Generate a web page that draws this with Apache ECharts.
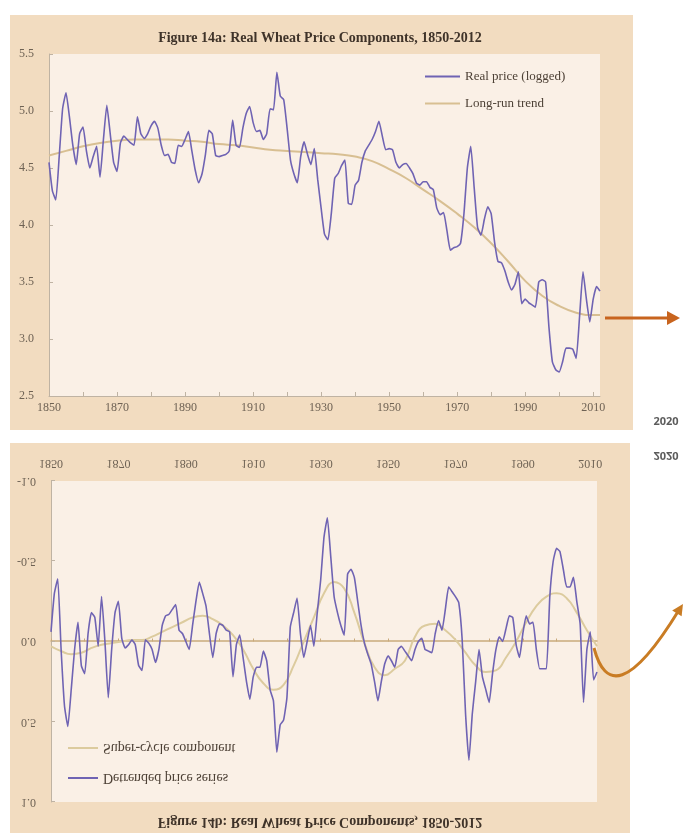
<!DOCTYPE html>
<html>
<head>
<meta charset="utf-8">
<script src="https://cdn.jsdelivr.net/npm/echarts@6/dist/echarts.min.js"></script>
<style>
  html, body { margin: 0; padding: 0; background: #fff; }
  #wrap { position: relative; width: 688px; height: 835px; overflow: hidden; }
  #chartB { position: absolute; left: 0; top: 435px; width: 688px; height: 400px; transform: scaleY(-1); z-index: 1; }
  #chartA { position: absolute; left: 0; top: 0; width: 688px; height: 835px; z-index: 2; }
</style>
</head>
<body>
<div id="wrap">
  <div id="chartB"></div>
  <div id="chartA"></div>
</div>
<script>
// years 1850 - 2012
var startYear = 1850, endYear = 2012;
var yearTicks = [1850, 1860, 1870, 1880, 1890, 1900, 1910, 1920, 1930, 1940, 1950, 1960, 1970, 1980, 1990, 2000, 2010];
var yearLabels = [1850, 1870, 1890, 1910, 1930, 1950, 1970, 1990, 2010];

// Figure 14a - real price (logged), one value per year
var realPrice = [
  4.55, 4.30, 4.22, 4.60, 5.02, 5.16, 4.95, 4.70, 4.53, 4.80,
  4.86, 4.65, 4.50, 4.60, 4.69, 4.42, 4.75, 5.05, 4.80, 4.55,
  4.47, 4.72, 4.78, 4.75, 4.72, 4.70, 4.95, 4.80, 4.76, 4.80,
  4.87, 4.91, 4.85, 4.70, 4.61, 4.62, 4.55, 4.54, 4.70, 4.69,
  4.75, 4.82, 4.65, 4.48, 4.37, 4.45, 4.62, 4.83, 4.80, 4.61,
  4.60, 4.61, 4.62, 4.65, 4.92, 4.70, 4.68, 4.85, 4.98, 5.04,
  4.90, 4.82, 4.83, 4.75, 4.80, 5.02, 5.01, 5.34, 5.13, 5.10,
  4.85, 4.57, 4.45, 4.37, 4.60, 4.73, 4.62, 4.53, 4.67, 4.40,
  4.15, 3.92, 3.87, 4.10, 4.41, 4.45, 4.52, 4.57, 4.19, 4.18,
  4.35, 4.39, 4.55, 4.65, 4.70, 4.75, 4.82, 4.91, 4.78, 4.66,
  4.67, 4.66, 4.55, 4.50, 4.53, 4.54, 4.50, 4.45, 4.37, 4.35,
  4.38, 4.38, 4.33, 4.31, 4.15, 4.09, 4.11, 3.95, 3.78, 3.80,
  3.81, 3.84, 4.10, 4.50, 4.69, 4.33, 3.98, 3.91, 4.05, 4.16,
  4.10, 3.85, 3.68, 3.67, 3.60, 3.50, 3.43, 3.48, 3.59, 3.31,
  3.35, 3.32, 3.30, 3.28, 3.50, 3.52, 3.50, 3.10, 2.80, 2.73,
  2.71, 2.80, 2.92, 2.92, 2.91, 2.83, 3.20, 3.59, 3.35, 3.15,
  3.35, 3.46, 3.42
];

// long-run trend, read every 5 years
var trendYears = [1850, 1855, 1860, 1865, 1870, 1875, 1880, 1885, 1890, 1895, 1900, 1905, 1910, 1915, 1920, 1925, 1930,
  1935, 1940, 1945, 1950, 1955, 1960, 1965, 1970, 1975, 1980, 1985, 1990, 1995, 2000, 2005, 2010, 2012];
var trendValues = [4.61, 4.65, 4.69, 4.72, 4.74, 4.75, 4.75, 4.75, 4.74, 4.73, 4.71, 4.70, 4.68, 4.66, 4.65, 4.64, 4.63,
  4.62, 4.60, 4.56, 4.49, 4.41, 4.31, 4.21, 4.10, 3.98, 3.84, 3.68, 3.51, 3.38, 3.29, 3.23, 3.21, 3.21];

// Figure 14b - detrended price series, one value per year
var detrended = [
  -0.06, -0.30, -0.39, 0.05, 0.40, 0.53, 0.30, 0.05, -0.12, 0.15,
  0.20, -0.05, -0.18, -0.15, 0.03, -0.28, 0.00, 0.35, 0.05, -0.18,
  -0.25, -0.02, 0.04, 0.02, -0.01, 0.02, 0.15, 0.18, -0.01, 0.01,
  0.05, 0.13, 0.05, -0.10, -0.16, -0.17, -0.20, -0.23, -0.07, -0.05,
  0.00, 0.05, -0.10, -0.25, -0.37, -0.30, -0.22, -0.05, 0.10, -0.05,
  -0.11, -0.10, -0.07, -0.06, 0.22, 0.02, -0.04, 0.10, 0.25, 0.36,
  0.22, 0.16, 0.16, 0.06, 0.12, 0.30, 0.37, 0.69, 0.52, 0.49,
  0.35, -0.09, -0.18, -0.27, -0.05, 0.10, 0.00, -0.10, 0.03, -0.18,
  -0.38, -0.65, -0.77, -0.53, -0.28, -0.18, -0.10, -0.04, -0.42, -0.45,
  -0.40, -0.25, -0.10, 0.01, 0.08, 0.14, 0.25, 0.37, 0.25, 0.14,
  0.09, 0.12, 0.16, 0.05, 0.03, 0.06, 0.09, 0.12, 0.05, 0.00,
  -0.02, 0.05, 0.06, 0.07, -0.05, -0.13, -0.07, -0.20, -0.34, -0.31,
  -0.28, -0.24, -0.01, 0.45, 0.74, 0.45, 0.25, 0.05, 0.22, 0.30,
  0.38, 0.20, 0.05, -0.03, 0.00, -0.08, -0.16, -0.15, 0.02, 0.10,
  -0.05, -0.16, -0.11, -0.12, 0.05, 0.17, 0.17, 0.17, -0.28, -0.50,
  -0.58, -0.56, -0.45, -0.34, -0.34, -0.40, -0.25, -0.11, 0.38, 0.05,
  -0.06, 0.24, 0.19
];

// super-cycle component, read every 3 years
var cycleYears = [1850, 1853, 1856, 1859, 1862, 1865, 1868, 1871, 1874, 1877, 1880, 1883, 1886, 1889, 1892, 1895, 1898,
  1901, 1904, 1907, 1910, 1913, 1916, 1919, 1922, 1925, 1928, 1931, 1934, 1937, 1940, 1943, 1946, 1949, 1952, 1955,
  1958, 1961, 1964, 1967, 1970, 1973, 1976, 1979, 1982, 1985, 1988, 1991, 1994, 1997, 2000, 2003, 2006, 2009, 2012];
var cycleValues = [0.03, 0.06, 0.08, 0.07, 0.04, 0.02, 0.01, 0.00, -0.01, -0.01, -0.03, -0.06, -0.09, -0.12, -0.15, -0.16, -0.14,
  -0.10, -0.04, 0.05, 0.17, 0.26, 0.30, 0.27, 0.15, 0.00, -0.15, -0.30, -0.37, -0.33, -0.18, 0.01, 0.16, 0.21, 0.17, 0.12,
  -0.03, -0.10, -0.11, -0.07, -0.01, 0.07, 0.15, 0.19, 0.18, 0.10, 0.00, -0.12, -0.22, -0.28, -0.30, -0.27, -0.18, -0.07, 0.03];

var years = [];
for (var y = startYear; y <= endYear; y++) years.push(y);

function pairs(xs, vs) {
  return xs.map(function (x, i) { return [x, vs[i]]; });
}

var serif = '"Liberation Serif", "DejaVu Serif", serif';
var labelColor = '#6e6254';
var axisColor = '#bfb3a3';
var purple = '#6f63b3';

function yearAxis(extra) {
  var ax = {
    type: 'value',
    min: startYear,
    max: endYear,
    interval: 10,
    splitLine: { show: false },
    axisLine: { onZero: false, lineStyle: { color: axisColor } },
    axisTick: { inside: true, length: 4, customValues: yearTicks, lineStyle: { color: axisColor } },
    axisLabel: {
      customValues: yearLabels,
      color: labelColor,
      fontFamily: serif,
      fontSize: 12,
      formatter: function (v) { return (v - startYear) % 20 === 0 ? String(v) : ''; }
    }
  };
  return echarts.util.merge(ax, extra || {}, true);
}

// ---------- top chart (plus the arrows and side labels) ----------
var chartA = echarts.init(document.getElementById('chartA'));
var optionA = {
  animation: false,
  grid: {
    left: 49, top: 54, width: 551, height: 342,
    show: true, backgroundColor: '#faf0e6', borderWidth: 0
  },
  legend: {
    orient: 'vertical',
    left: 420, top: 65,
    itemWidth: 35, itemHeight: 2, itemGap: 14,
    icon: 'rect',
    textStyle: { fontFamily: serif, fontSize: 13, color: '#4d4136' },
    data: ['Real price (logged)', 'Long-run trend']
  },
  xAxis: yearAxis({ axisLabel: { margin: 6 } }),
  yAxis: {
    type: 'value',
    min: 2.5, max: 5.5, interval: 0.5,
    splitLine: { show: false },
    axisLine: { show: true, lineStyle: { color: axisColor } },
    axisTick: { show: true, inside: true, length: 4, lineStyle: { color: axisColor } },
    axisLabel: {
      margin: 15, color: labelColor, fontFamily: serif, fontSize: 12,
      formatter: function (v) { return v.toFixed(1); }
    }
  },
  series: [
    {
      name: 'Real price (logged)',
      type: 'line',
      data: pairs(years, realPrice),
      showSymbol: false,
      smooth: 0.15,
      color: purple,
      lineStyle: { color: purple, width: 1.6 },
      z: 3
    },
    {
      name: 'Long-run trend',
      type: 'line',
      data: pairs(trendYears, trendValues),
      showSymbol: false,
      smooth: true,
      color: '#d8bf92',
      lineStyle: { color: '#d8bf92', width: 2 },
      z: 2
    }
  ],
  graphic: [
    { type: 'rect', z: -10, shape: { x: 10, y: 15, width: 623, height: 415 }, style: { fill: '#f2dcc0' } },
    {
      type: 'text', x: 320, y: 38, z: 5,
      style: {
        text: 'Figure 14a: Real Wheat Price Components, 1850-2012',
        fill: '#3f3329', font: 'bold 14px ' + serif,
        align: 'center', verticalAlign: 'middle', textAlign: 'center', textVerticalAlign: 'middle'
      }
    },
    {
      type: 'text', x: 666, y: 422, z: 5,
      style: {
        text: '2020', fill: '#5c5c5c', font: 'bold 11px "Open Sans", sans-serif',
        align: 'center', verticalAlign: 'middle', textAlign: 'center', textVerticalAlign: 'middle'
      }
    },
    { type: 'line', z: 100, shape: { x1: 605, y1: 318, x2: 668, y2: 318 }, style: { stroke: '#c8641e', lineWidth: 3 } },
    { type: 'polygon', z: 100, shape: { points: [[680, 318], [667, 311], [667, 325]] }, style: { fill: '#c8641e' } },
    {
      type: 'bezierCurve', z: 100,
      shape: { x1: 594, y1: 648, cpx1: 605, cpy1: 690, cpx2: 630, cpy2: 690, x2: 679, y2: 610 },
      style: { stroke: '#c97c24', lineWidth: 3, fill: null }
    },
    { type: 'polygon', z: 100, shape: { points: [[683, 604], [681.6, 616.3], [672.2, 610.5]] }, style: { fill: '#c97c24' } }
  ]
};
chartA.setOption(optionA);

// ---------- bottom chart: drawn upright, the div is mirrored top-to-bottom ----------
var chartB = echarts.init(document.getElementById('chartB'));
var optionB = {
  animation: false,
  grid: {
    left: 51, top: 33, width: 546, height: 321,
    show: true, backgroundColor: '#faf0e6', borderWidth: 0
  },
  legend: {
    orient: 'vertical',
    left: 63, top: 45,
    itemWidth: 30, itemHeight: 2, itemGap: 16,
    icon: 'rect',
    textStyle: { fontFamily: serif, fontSize: 14, color: '#4d4136' },
    data: ['Detrended price series', 'Super-cycle component']
  },
  xAxis: [
    yearAxis({
      axisLine: { show: false },
      axisTick: { show: false },
      axisLabel: { margin: 12 }
    }),
    yearAxis({
      axisLine: { onZero: true, show: true, lineStyle: { color: '#c9aa7c', width: 1.5 } },
      axisTick: { show: true, inside: true, length: 3, lineStyle: { color: '#c9aa7c' } },
      axisLabel: { show: false }
    })
  ],
  yAxis: {
    type: 'value',
    min: -1, max: 1, interval: 0.5,
    splitLine: { show: false },
    axisLine: { show: true, onZero: false, lineStyle: { color: axisColor } },
    axisTick: { show: true, inside: true, length: 4, lineStyle: { color: axisColor } },
    axisLabel: {
      margin: 15, color: labelColor, fontFamily: serif, fontSize: 12,
      formatter: function (v) { return v.toFixed(1); }
    }
  },
  series: [
    {
      name: 'Detrended price series',
      type: 'line',
      data: pairs(years, detrended),
      showSymbol: false,
      smooth: 0.15,
      color: purple,
      lineStyle: { color: purple, width: 1.6 },
      z: 3
    },
    {
      name: 'Super-cycle component',
      type: 'line',
      data: pairs(cycleYears, cycleValues),
      showSymbol: false,
      smooth: true,
      color: '#dccb9e',
      lineStyle: { color: '#dccb9e', width: 2 },
      z: 2
    }
  ],
  graphic: [
    { type: 'rect', z: -10, shape: { x: 10, y: 2, width: 620, height: 390 }, style: { fill: '#f2dcc0' } },
    {
      type: 'text', x: 320, y: 13, z: 5,
      style: {
        text: 'Figure 14b: Real Wheat Price Components, 1850-2012',
        fill: '#3f3329', font: 'bold 14px ' + serif,
        align: 'center', verticalAlign: 'middle', textAlign: 'center', textVerticalAlign: 'middle'
      }
    },
    {
      type: 'text', x: 666, y: 380, z: 5,
      style: {
        text: '2020', fill: '#5c5c5c', font: 'bold 11px "Open Sans", sans-serif',
        align: 'center', verticalAlign: 'middle', textAlign: 'center', textVerticalAlign: 'middle'
      }
    }
  ]
};
chartB.setOption(optionB);
</script>
</body>
</html>
